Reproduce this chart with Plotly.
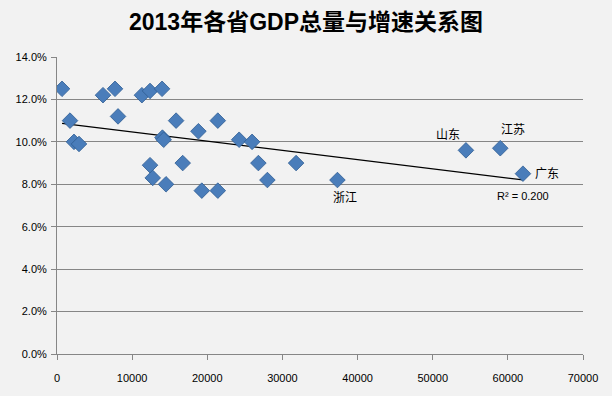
import numpy as np
import plotly.graph_objects as go

# GDP total (100 million yuan) and growth rate
gdp = [670, 1730, 2260, 2930, 6120, 7720, 8120, 11300, 12380, 13980,
       14030, 14200, 12380, 12740, 14510, 15850, 16730, 18820, 19270, 21400,
       21400, 24240, 25960, 26800, 28000, 31820, 37320, 54420, 58990, 62010]
growth = [0.125, 0.110, 0.100, 0.099, 0.122, 0.125, 0.112, 0.122, 0.124, 0.125,
          0.102, 0.101, 0.089, 0.083, 0.080, 0.110, 0.090, 0.105, 0.077, 0.110,
          0.077, 0.101, 0.100, 0.090, 0.082, 0.090, 0.082, 0.096, 0.097, 0.085]

label_names = ["浙江", "山东", "江苏", "广东"]
label_x = [37320, 54420, 58990, 62010]
label_y = [0.082, 0.096, 0.097, 0.085]
r2_text = "R² = 0.200"

x_ticks = [0, 10000, 20000, 30000, 40000, 50000, 60000, 70000]
y_ticks = [0, 0.02, 0.04, 0.06, 0.08, 0.10, 0.12, 0.14]

xs = np.array(gdp, dtype=float)
ys = np.array(growth, dtype=float)
k, b = np.polyfit(xs, ys, 1)
tx = np.array([xs.min(), xs.max()])
ty = k * tx + b

fig = go.Figure()
fig.add_trace(go.Scatter(
    x=tx, y=ty, mode="lines", line=dict(color="#000000", width=1.2),
    hoverinfo="skip", showlegend=False))
fig.add_trace(go.Scatter(
    x=gdp, y=growth, mode="markers",
    marker=dict(symbol="diamond", size=12, color="#4a7dba",
                line=dict(color="#2f5d93", width=0.8)),
    showlegend=False))

font_fam = "Liberation Sans, Noto Sans CJK SC, sans-serif"
offsets = {"浙江": (8, 18), "山东": (-18, -15), "江苏": (13, -18), "广东": (24, 0)}
for name, lx, ly in zip(label_names, label_x, label_y):
    dx, dy = offsets[name]
    fig.add_annotation(x=lx, y=ly, text=name, showarrow=False,
                       xshift=dx, yshift=-dy,
                       font=dict(family=font_fam, size=12, color="#000000"))
fig.add_annotation(x=float(tx[1]), y=float(ty[1]), text=r2_text, showarrow=False,
                   xshift=0, yshift=-16,
                   font=dict(family=font_fam, size=11, color="#000000"))

fig.update_layout(
    width=612, height=396,
    margin=dict(l=57, r=29, t=57, b=42),
    paper_bgcolor="#f2f2f2", plot_bgcolor="#f2f2f2",
    title=dict(text="<b>2013年各省GDP总量与增速关系图</b>", x=0.5, xanchor="center",
               y=0.945, yanchor="middle",
               font=dict(family="Liberation Sans, Noto Sans CJK SC, sans-serif",
                         size=23, color="#000000")),
    xaxis=dict(range=[0, 70000], tickvals=x_ticks, tickformat="d",
               showgrid=False, zeroline=False,
               showline=True, linecolor="#868686", linewidth=1,
               ticks="outside", ticklen=5, tickcolor="#868686",
               ticklabelstandoff=9,
               tickfont=dict(family=font_fam, size=11, color="#000000")),
    yaxis=dict(range=[0, 0.14], tickvals=y_ticks, tickformat=".1%",
               showgrid=True, gridcolor="#868686", gridwidth=1, zeroline=False,
               showline=True, linecolor="#868686", linewidth=1,
               ticks="outside", ticklen=5, tickcolor="#868686",
               ticklabelstandoff=2,
               tickfont=dict(family=font_fam, size=11, color="#000000")),
)

fig.write_html("out.html", config={"displayModeBar": False},
               post_script="document.body.style.margin='0px';"
                           "document.body.style.background='#f2f2f2';")
